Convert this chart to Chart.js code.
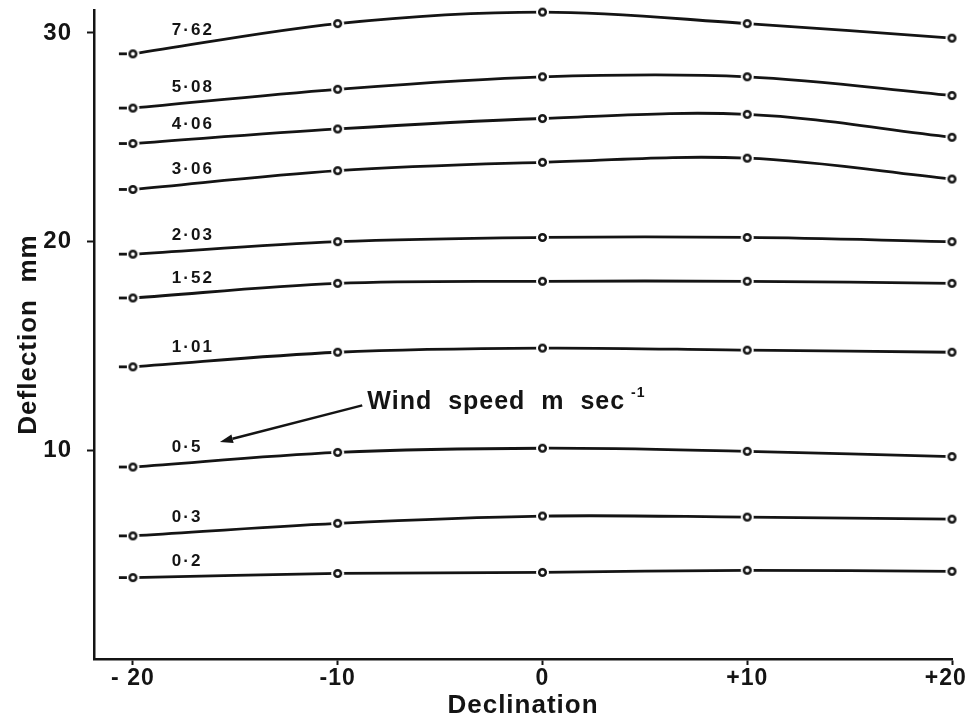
<!DOCTYPE html>
<html>
<head>
<meta charset="utf-8">
<title>Deflection against declination</title>
<script src="https://cdn.jsdelivr.net/npm/chart.js@4.4.1/dist/chart.umd.min.js"></script>
<style>
  html, body { margin: 0; padding: 0; background: #fff; }
  canvas { display: block; }
</style>
</head>
<body>
<canvas id="deflectionChart" width="967" height="724"></canvas>
<script>
// Declination (degrees) and axis tick labels
const declination = [-20, -10, 0, 10, 20];
const declinationTickLabels = ["- 20", "-10", "0", "+10", "+20"];
const deflectionTicks = [10, 20, 30];

// Wind speed of each curve, m/s
const windSpeeds = ["0·2", "0·3", "0·5", "1·01", "1·52", "2·03", "3·06", "4·06", "5·08", "7·62"];

// Deflection (mm) at each declination, one array per wind speed
const deflection020 = [3.9, 4.1, 4.15, 4.25, 4.2];
const deflection030 = [5.9, 6.5, 6.85, 6.8, 6.7];
const deflection050 = [9.2, 9.9, 10.1, 9.95, 9.7];
const deflection101 = [14.0, 14.7, 14.9, 14.8, 14.7];
const deflection152 = [17.3, 18.0, 18.1, 18.1, 18.0];
const deflection203 = [19.4, 20.0, 20.2, 20.2, 20.0];
const deflection306 = [22.5, 23.4, 23.8, 24.0, 23.0];
const deflection406 = [24.7, 25.4, 25.9, 26.1, 25.0];
const deflection508 = [26.4, 27.3, 27.9, 27.9, 27.0];
const deflection762 = [29.0, 30.45, 31.0, 30.45, 29.75];

const deflectionSeries = [
  deflection020, deflection030, deflection050, deflection101, deflection152,
  deflection203, deflection306, deflection406, deflection508, deflection762,
];

const INK = "#141414";
const FAMILY = "'Liberation Sans', Arial, sans-serif";

// Open circle marker with a white ring so the curve stops short of it
function makeMarker() {
  const c = document.createElement("canvas");
  c.width = 15;
  c.height = 15;
  const g = c.getContext("2d");
  g.fillStyle = "#fff";
  g.beginPath();
  g.arc(7.5, 7.5, 6.5, 0, Math.PI * 2);
  g.fill();
  g.strokeStyle = INK;
  g.lineWidth = 2.5;
  g.beginPath();
  g.arc(7.5, 7.5, 3.3, 0, Math.PI * 2);
  g.stroke();
  return c;
}

// Slightly spaced lettering everywhere
const letterSpacing = {
  id: "letterSpacing",
  beforeDraw(chart) {
    chart.ctx.letterSpacing = "1px";
  },
};

// Wind speed label above the left end of each curve, plus the short lead-in dash
const curveLabels = {
  id: "curveLabels",
  afterDatasetsDraw(chart) {
    const { ctx } = chart;
    const xScale = chart.scales.x;
    const left = xScale.getPixelForValue(-18.1);
    ctx.save();
    ctx.font = `bold 17px ${FAMILY}`;
    ctx.letterSpacing = "2px";
    ctx.fillStyle = INK;
    ctx.strokeStyle = INK;
    ctx.lineWidth = 2.8;
    ctx.textAlign = "left";
    ctx.textBaseline = "middle";
    chart.data.datasets.forEach((ds, i) => {
      const pts = chart.getDatasetMeta(i).data;
      const first = pts[0];
      const second = pts[1];
      ctx.beginPath();
      ctx.moveTo(first.x - 14, first.y);
      ctx.lineTo(first.x - 6, first.y);
      ctx.stroke();
      const t = (left + 20 - first.x) / (second.x - first.x);
      const yLine = first.y + t * (second.y - first.y);
      ctx.fillText(ds.label, left, yLine - 15);
    });
    ctx.restore();
  },
};

// "Wind speed" note with an arrow pointing at the curve labels (data units)
const windNote = {
  text: { x: -8.55, y: 12.3 },
  tail: { x: -8.8, y: 12.15 },
  head: { x: -15.75, y: 10.4 },
};

const windNotePlugin = {
  id: "windNote",
  afterDatasetsDraw(chart) {
    const { ctx } = chart;
    const { x, y } = chart.scales;
    const tx = x.getPixelForValue(windNote.text.x);
    const ty = y.getPixelForValue(windNote.text.y);
    const ax = x.getPixelForValue(windNote.tail.x);
    const ay = y.getPixelForValue(windNote.tail.y);
    const hx = x.getPixelForValue(windNote.head.x);
    const hy = y.getPixelForValue(windNote.head.y);

    ctx.save();
    ctx.strokeStyle = INK;
    ctx.fillStyle = INK;
    ctx.lineWidth = 2.4;
    const ang = Math.atan2(hy - ay, hx - ax);
    const len = 13;
    const back = { x: hx - len * Math.cos(ang), y: hy - len * Math.sin(ang) };
    ctx.beginPath();
    ctx.moveTo(ax, ay);
    ctx.lineTo(back.x, back.y);
    ctx.stroke();
    ctx.beginPath();
    ctx.moveTo(hx, hy);
    ctx.lineTo(back.x + 4.5 * Math.sin(ang), back.y - 4.5 * Math.cos(ang));
    ctx.lineTo(back.x - 4.5 * Math.sin(ang), back.y + 4.5 * Math.cos(ang));
    ctx.closePath();
    ctx.fill();

    ctx.textAlign = "left";
    ctx.textBaseline = "middle";
    ctx.letterSpacing = "1px";
    ctx.font = `bold 25px ${FAMILY}`;
    const main = "Wind  speed  m  sec";
    ctx.fillText(main, tx, ty);
    const w = ctx.measureText(main).width;
    ctx.font = `bold 14px ${FAMILY}`;
    ctx.fillText("-1", tx + w + 6, ty - 9);
    ctx.restore();
  },
};

const marker = makeMarker();

const datasets = deflectionSeries.map((series, i) => ({
  label: windSpeeds[i],
  data: declination.map((d, j) => ({ x: d, y: series[j] })),
  borderColor: INK,
  borderWidth: 2.8,
  tension: 0.35,
  fill: false,
  clip: false,
  pointStyle: marker,
  pointRadius: 4,
}));

const tickFont = { family: FAMILY, size: 24, weight: "bold" };
const titleFont = { family: FAMILY, size: 26, weight: "bold" };

const ctx = document.getElementById("deflectionChart").getContext("2d");
new Chart(ctx, {
  type: "line",
  data: { datasets },
  options: {
    responsive: false,
    animation: false,
    events: [],
    layout: { padding: { top: 10, right: 15, bottom: 0, left: 0 } },
    plugins: {
      legend: { display: false },
      tooltip: { enabled: false },
    },
    scales: {
      x: {
        type: "linear",
        min: -21.9,
        max: 20,
        afterBuildTicks: (scale) => {
          scale.ticks = declination.map((v) => ({ value: v }));
        },
        afterFit: (scale) => {
          // fixed band below the plot; labels may overhang the ends
          scale.height = 65;
          scale.paddingLeft = 0;
          scale.paddingRight = 0;
        },
        border: { display: true, color: INK, width: 2.5 },
        grid: { drawOnChartArea: false, drawTicks: true, tickLength: 6, tickColor: INK, tickWidth: 2 },
        ticks: {
          color: INK,
          font: { family: FAMILY, size: 23, weight: "bold" },
          padding: 0,
          maxRotation: 0,
          autoSkip: false,
          callback: (v) => {
            const label = declinationTickLabels[declination.indexOf(v)];
            // nudge the last label inwards so it stays on the canvas
            return v === declination[declination.length - 1] ? label + "\u2002" : label;
          },
        },
        title: {
          display: true,
          text: "Declination",
          color: INK,
          font: titleFont,
          padding: { top: 0, bottom: 3 },
        },
      },
      y: {
        type: "linear",
        min: 0,
        max: 31.1,
        afterBuildTicks: (scale) => {
          scale.ticks = deflectionTicks.map((v) => ({ value: v }));
        },
        afterFit: (scale) => {
          scale.width = 94;
          scale.paddingTop = 0;
          scale.paddingBottom = 0;
        },
        border: { display: true, color: INK, width: 2.5 },
        grid: { drawOnChartArea: false, drawTicks: true, tickLength: 7, tickColor: INK, tickWidth: 2 },
        ticks: { color: INK, font: tickFont, padding: 15 },
        title: {
          display: true,
          text: "Deflection  mm",
          color: INK,
          font: titleFont,
          padding: { top: 13, bottom: 0 },
        },
      },
    },
  },
  plugins: [letterSpacing, curveLabels, windNotePlugin],
});
</script>
</body>
</html>
